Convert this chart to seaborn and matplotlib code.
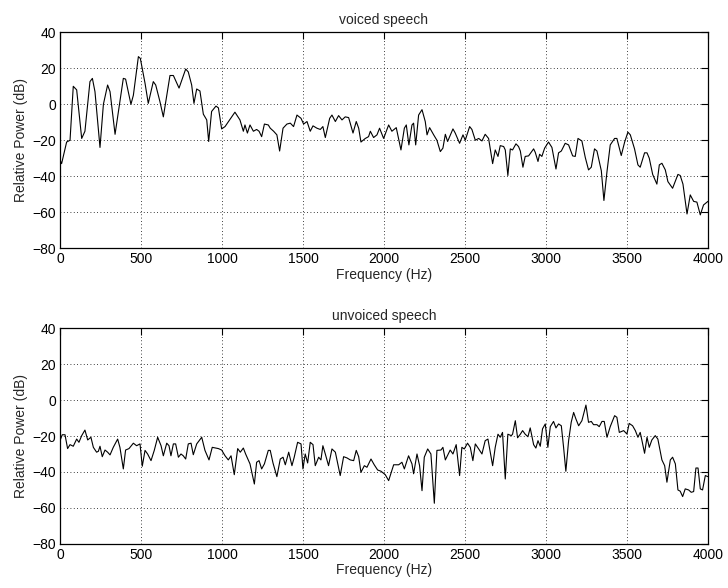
import matplotlib
matplotlib.use("Agg")
import matplotlib.pyplot as plt
import seaborn as sns
import pandas as pd

# values (frequency in Hz, power in dB)
voiced_freq = [0, 10, 41, 62, 82, 103, 134, 154, 185, 200, 216, 247, 268, 294, 309, 340, 364, 391, 405,
               438, 453, 484, 496, 525, 545, 576, 591, 617, 638, 679, 700, 735, 776, 792, 813, 827,
               844, 864, 885, 906, 918, 936, 963, 978, 998, 1019, 1080, 1111, 1132, 1142, 1157, 1173,
               1194, 1214, 1229, 1245, 1262, 1286,
               1298, 1319, 1339, 1356, 1377, 1401, 1422, 1442, 1463, 1488, 1504, 1525, 1545, 1562,
               1586, 1607, 1623, 1638, 1665, 1679, 1700, 1720, 1741, 1761, 1782, 1809, 1829, 1844,
               1858, 1885, 1905, 1916, 1936, 1957, 1973, 1998, 2029, 2049, 2076, 2105, 2126, 2138,
               2154, 2173, 2183, 2196, 2214, 2235, 2255, 2266, 2282, 2307, 2327, 2348, 2364, 2379,
               2393, 2426, 2440, 2467, 2488, 2502, 2529, 2543, 2564, 2585, 2605,
               2625, 2646, 2671, 2687, 2704, 2718, 2739, 2749, 2765, 2780, 2794, 2815, 2831, 2842,
               2858, 2872, 2893, 2924, 2934, 2951, 2961, 2975, 2992, 3016, 3037, 3062, 3078, 3095,
               3119, 3140, 3165, 3181, 3198, 3222, 3243, 3263, 3280, 3300, 3315, 3342, 3358, 3377,
               3397, 3424, 3438, 3465, 3486, 3506, 3521, 3547, 3568, 3582, 3609, 3624, 3638, 3659,
               3685, 3700, 3716, 3737, 3753, 3782, 3815, 3829, 3846, 3871, 3891, 3912, 3932, 3953,
               3973, 4000]
voiced_db = [-31, -33, -21, -20, 10, 8, -19, -15, 12.6, 14.4, 7, -24, 0, 10.7, 7, -16.7, -2, 14.4, 14,
             0, 5, 26.5, 25.5, 11.7, 0.5, 12.6, 10.7, 1.5, -7, 16, 16, 9, 19.6, 18, 10.7, 0.5,
             8.5, 7.4, -5.5, -8.7, -20.7, -4, -1, -2, -13.7, -12.4, -4.4, -8.7, -15, -11.5, -16, -11.5,
             -15, -14, -15, -18, -11, -11.5,
             -13.3, -15, -17, -26, -13.3, -11, -10.5, -12.4, -6, -7.8, -11, -9.6, -15, -12,
             -13.3, -14, -12.4, -18.5, -7.8, -6, -9.6, -6.3, -8.7, -7, -7.4, -16, -9.6, -13.3,
             -21, -19, -18, -15, -18.5, -17, -13.3, -19, -11.5, -15, -13, -25.4, -13.3, -11.5,
             -22.6, -11.5, -10.5, -22.6, -6, -3, -9.6, -17, -13, -17, -20, -26.3, -24.4, -16.7,
             -20.7, -13.7, -16, -21.7, -17, -20, -12.4, -14, -20, -19, -20.4,
             -16.7, -19, -33, -25.4, -29, -23, -23.5, -25.4, -39.6, -24.8, -25.4, -22, -23.5, -26,
             -35, -29, -28.7, -24.8, -26.7, -31.8, -27.8, -29, -24.4, -21, -24, -36, -27, -26,
             -21.7, -22.6, -28.7, -29, -19, -20.4, -29.6, -36.5, -35, -24.8, -26, -37, -53.5, -37.4,
             -22.6, -19, -19, -28.5, -21, -15.5, -17, -24.8, -33.7, -35, -27, -27, -30, -39,
             -44.4, -33.7, -32.8, -36.5, -43, -46.7, -39, -39.6, -44.4, -61, -50.4, -54, -54.4, -61.5,
             -56, -54]

unvoiced_freq = [0, 14, 31, 47, 62, 82, 103, 117, 134, 154, 171, 191, 206, 226, 237, 247, 261, 278, 294,
                 309, 329, 356, 370, 391, 405, 426, 453, 473, 494, 508, 525, 541, 562, 582, 603, 624,
                 638, 659, 673, 685, 700, 714, 731, 747, 761, 776, 792, 809, 823, 844, 875, 895, 920,
                 940, 978, 998, 1019, 1039, 1056, 1076, 1097, 1113, 1132, 1146, 1173, 1200, 1214, 1229,
                 1245, 1262, 1286,
                 1298, 1315, 1339, 1360, 1377, 1391, 1412, 1432, 1446, 1467, 1488, 1500, 1514, 1529,
                 1545, 1562, 1576, 1597, 1611, 1623, 1638, 1658, 1679, 1700, 1730, 1751, 1772, 1792,
                 1813, 1829, 1844, 1858, 1879, 1895, 1920, 1940, 1961, 1982, 2008, 2029, 2060, 2091,
                 2111, 2126, 2152, 2173, 2183, 2204, 2220, 2235, 2249, 2270, 2290, 2311, 2327, 2352,
                 2364, 2379, 2399, 2409, 2426, 2446, 2467, 2481, 2496, 2516, 2533, 2549, 2564, 2585,
                 2605,
                 2625, 2642, 2671, 2687, 2704, 2718, 2732, 2749, 2765, 2786, 2794, 2811, 2825, 2842,
                 2856, 2872, 2889, 2903, 2924, 2938, 2951, 2965, 2979, 2996, 3012, 3027, 3047, 3062,
                 3078, 3095, 3109, 3123, 3140, 3156, 3171, 3185, 3202, 3222, 3247, 3263, 3280, 3294,
                 3315, 3329, 3346, 3360, 3377, 3397, 3424, 3438, 3453, 3480, 3500, 3514, 3535, 3552,
                 3568, 3582, 3593, 3609, 3624, 3638, 3654, 3675, 3691, 3716, 3733, 3747, 3768, 3782,
                 3799, 3815, 3829, 3844, 3860, 3881, 3897, 3912, 3926, 3939, 3953, 3967, 3984, 4000]
unvoiced_db = [-22.6, -19.3, -19.3, -27, -24.8, -25.7, -21.7, -23.5, -19.8, -16.7, -22.2, -20.7, -26.3,
               -29, -28.5, -25.7, -31.5, -27.8, -29, -30.5, -26.3, -21.7, -26.3, -38.3, -27.8, -27,
               -24, -25.4, -24.4, -36.8, -28, -30, -33.7, -28, -20.7, -25.4, -31, -24, -25.4, -31,
               -24.4, -24.4, -31.8, -30, -31, -32.8, -24.4, -24, -30.4, -24.4, -20.7, -28, -33.3,
               -26.3, -27, -27.8, -31, -33.3, -31, -41.5, -27, -29, -26.7, -30, -35.5, -46.7, -34.6,
               -33.7, -38.3, -35.5, -28,
               -28, -35, -42.6, -32.8, -31.8, -36, -29, -36.5, -31.8, -23.5, -24.4, -38.3, -30, -35,
               -23.5, -24.8, -36.5, -31.8, -33.3, -25.4, -30, -36.5, -27.2, -29, -42, -31.5, -32.2,
               -33.3, -33.7, -28, -31.5, -40.2, -36.5, -37.4, -32.8, -36, -38.9, -39.6, -41.5, -44.8,
               -36, -36, -34.6, -38.3, -31, -35.5, -41, -30, -36.5, -50.4, -31.8, -27.2, -30, -57.4,
               -28, -27.8, -26.3, -33.3, -29.6, -27.8, -30, -24.8, -42, -26.3, -27.2, -24, -26.3,
               -33.7, -24.4, -27.2, -30,
               -22.6, -21.7, -36.5, -26.3, -19, -20.7, -18, -43.9, -19, -19.8, -19, -11.5, -21, -19,
               -17, -19, -20.4, -15.5, -24.8, -26.7, -22.6, -25.7, -16, -13.3, -26.3, -14.8, -11.9,
               -15.5, -13.3, -14.3, -26.3, -39.6, -22.6, -12.4, -6.9, -10.5, -14.3, -11.5, -2.8,
               -12.4, -11.9, -13.7, -13.7, -14.8, -11.9, -11.9, -20.7, -14.8, -8.7, -9.6, -18, -17,
               -18.9, -13, -14.3, -17, -20.7, -18, -22.6, -29.6, -20.7, -26.3, -22.2, -19.8, -21.7,
               -33.3, -36.5, -45.7, -33.3, -31.8, -35.5, -50, -50.7, -53.7, -49.4, -50, -51.3, -50.9,
               -37.8, -37.8, -49.4, -50, -42, -42.6]

titles = ["voiced speech", "unvoiced speech"]
x_ticks = [0, 500, 1000, 1500, 2000, 2500, 3000, 3500, 4000]
y_ticks = [-80, -60, -40, -20, 0, 20, 40]

sns.set_style("white")
plt.rcParams['font.family'] = ['Liberation Sans', 'DejaVu Sans']
plt.rcParams['font.size'] = 10

fig = plt.figure(figsize=(7.28, 5.88), dpi=100)
ax_top = fig.add_axes([0.0824, 0.578, 0.890, 0.367])
ax_bot = fig.add_axes([0.0824, 0.075, 0.890, 0.367])

series = [(voiced_freq, voiced_db), (unvoiced_freq, unvoiced_db)]
for ax, (f, d), title in zip([ax_top, ax_bot], series, titles):
    df = pd.DataFrame({"freq": f, "db": d})
    sns.lineplot(data=df, x="freq", y="db", ax=ax, color="black", linewidth=0.8,
                 estimator=None, sort=False)
    ax.set_xlim(0, 4000)
    ax.set_ylim(-80, 40)
    ax.set_xticks(x_ticks)
    ax.set_yticks(y_ticks)
    ax.grid(True, linestyle=(0, (1, 3)), color="black", linewidth=0.6)
    ax.tick_params(direction="in", length=5, width=0.8, top=True, right=True,
                   labelsize=10, pad=3, colors="black")
    for sp in ax.spines.values():
        sp.set_color("black")
        sp.set_linewidth(0.9)
    ax.set_title(title, fontsize=10, pad=6)
    ax.set_xlabel("Frequency (Hz)", fontsize=10, labelpad=1)
    ax.set_ylabel("Relative Power (dB)", fontsize=10, labelpad=3)

fig.savefig("out.png", dpi=100, facecolor="white")
